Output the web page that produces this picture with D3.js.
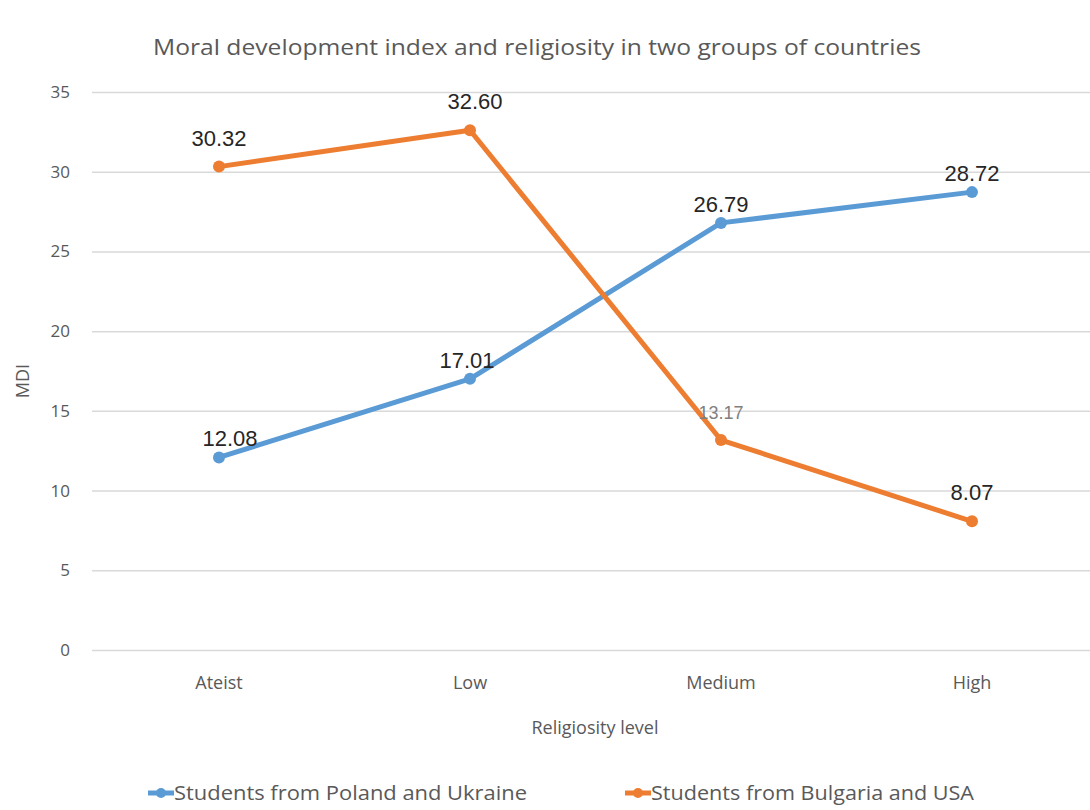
<!DOCTYPE html>
<html><head><meta charset="utf-8">
<script src="https://cdn.jsdelivr.net/npm/d3@7"></script>
<style>body{margin:0;background:#fff}svg{display:block}</style>
</head><body>
<svg id="c" width="1090" height="810"></svg>
<script>
const categories = ["Ateist", "Low", "Medium", "High"];
const polandUkraine = [12.08, 17.01, 26.79, 28.72];
const bulgariaUSA = [30.32, 32.60, 13.17, 8.07];
const seriesNames = ["Students from Poland and Ukraine", "Students from Bulgaria and USA"];
const yTicks = [0, 5, 10, 15, 20, 25, 30, 35];
const colors = ["#5b9bd5", "#ed7d31"];

const svg = d3.select("#c");
const axisFont = "'Open Sans', 'DejaVu Sans', sans-serif";
const narrowFont = "'Liberation Sans Narrow', 'Open Sans', sans-serif";
const x = d3.scaleBand().domain(categories).range([93.5, 1097.5]);
const y = d3.scaleLinear().domain([0, 35]).range([650, 92]);
const cx = d => x(d) + x.bandwidth() / 2;

// title
svg.append("text").attr("x", 537).attr("y", 55).attr("text-anchor", "middle")
  .attr("font-family", narrowFont).attr("font-size", 21).attr("fill", "#595959")
  .attr("textLength", 768).attr("lengthAdjust", "spacingAndGlyphs")
  .text("Moral development  index and religiosity in two groups of countries");

// grid
const yAxis = d3.axisLeft(y).tickValues(yTicks).tickSize(-(1090 - 92)).tickPadding(22);
const gy = svg.append("g").attr("transform", "translate(92,0)").call(yAxis);
gy.select(".domain").remove();
gy.selectAll(".tick line").attr("stroke", "#d9d9d9").attr("stroke-width", 1.5);
gy.selectAll(".tick text").attr("font-family", axisFont).attr("font-size", 17).attr("fill", "#595959");

// x axis labels
const xAxis = d3.axisBottom(x).tickSize(0).tickPadding(26);
const gx = svg.append("g").attr("transform", "translate(0,650)").call(xAxis);
gx.select(".domain").remove();
gx.selectAll(".tick text").attr("font-family", axisFont).attr("font-size", 18).attr("fill", "#595959");

svg.append("text").attr("x", 595).attr("y", 734).attr("text-anchor", "middle")
  .attr("font-family", axisFont).attr("font-size", 18).attr("fill", "#595959").text("Religiosity level");
svg.append("text").attr("transform", "translate(29,381) rotate(-90)").attr("text-anchor", "middle")
  .attr("font-family", axisFont).attr("font-size", 18).attr("fill", "#595959").text("MDI");

const line = d3.line().x((d, i) => cx(categories[i])).y(d => y(d));
[polandUkraine, bulgariaUSA].forEach((vals, s) => {
  svg.append("path").datum(vals).attr("d", line).attr("fill", "none")
    .attr("stroke", colors[s]).attr("stroke-width", 5).attr("stroke-linejoin", "round");
  svg.selectAll(null).data(vals).enter().append("circle")
    .attr("cx", (d, i) => cx(categories[i])).attr("cy", d => y(d)).attr("r", 6)
    .attr("fill", colors[s]);
});

// data labels
const labelFont = "'Liberation Sans', Arial, sans-serif";
const allLabels = [];
polandUkraine.forEach((v, i) => allLabels.push({cat: categories[i], v, dx: i === 0 ? 11 : (i === 1 ? -3 : 0), dy: -11, c: "#262626", fs: 22}));
bulgariaUSA.forEach((v, i) => allLabels.push({cat: categories[i], v, dx: i === 1 ? 5 : 0, dy: -21, c: i === 2 ? "#7f7f7f" : "#262626", fs: i === 2 ? 18 : 22}));
svg.selectAll(null).data(allLabels).enter().append("text")
  .attr("x", d => cx(d.cat) + d.dx).attr("y", d => y(d.v) + d.dy)
  .attr("text-anchor", "middle").attr("font-family", labelFont)
  .attr("font-size", d => d.fs).attr("fill", d => d.c)
  .text(d => d.v.toFixed(2));

// legend
const legX = [148, 625];
const legLen = [353, 323];
seriesNames.forEach((n, s) => {
  const g = svg.append("g").attr("transform", `translate(${legX[s]},793)`);
  g.append("line").attr("x1", 0).attr("x2", 26).attr("stroke", colors[s]).attr("stroke-width", 5);
  g.append("circle").attr("cx", 13).attr("r", 5).attr("fill", colors[s]);
  g.append("text").attr("x", 26).attr("y", 7).attr("font-family", narrowFont).attr("font-size", 20)
    .attr("textLength", legLen[s]).attr("lengthAdjust", "spacingAndGlyphs")
    .attr("fill", "#595959").text(n);
});
</script>
</body></html>
